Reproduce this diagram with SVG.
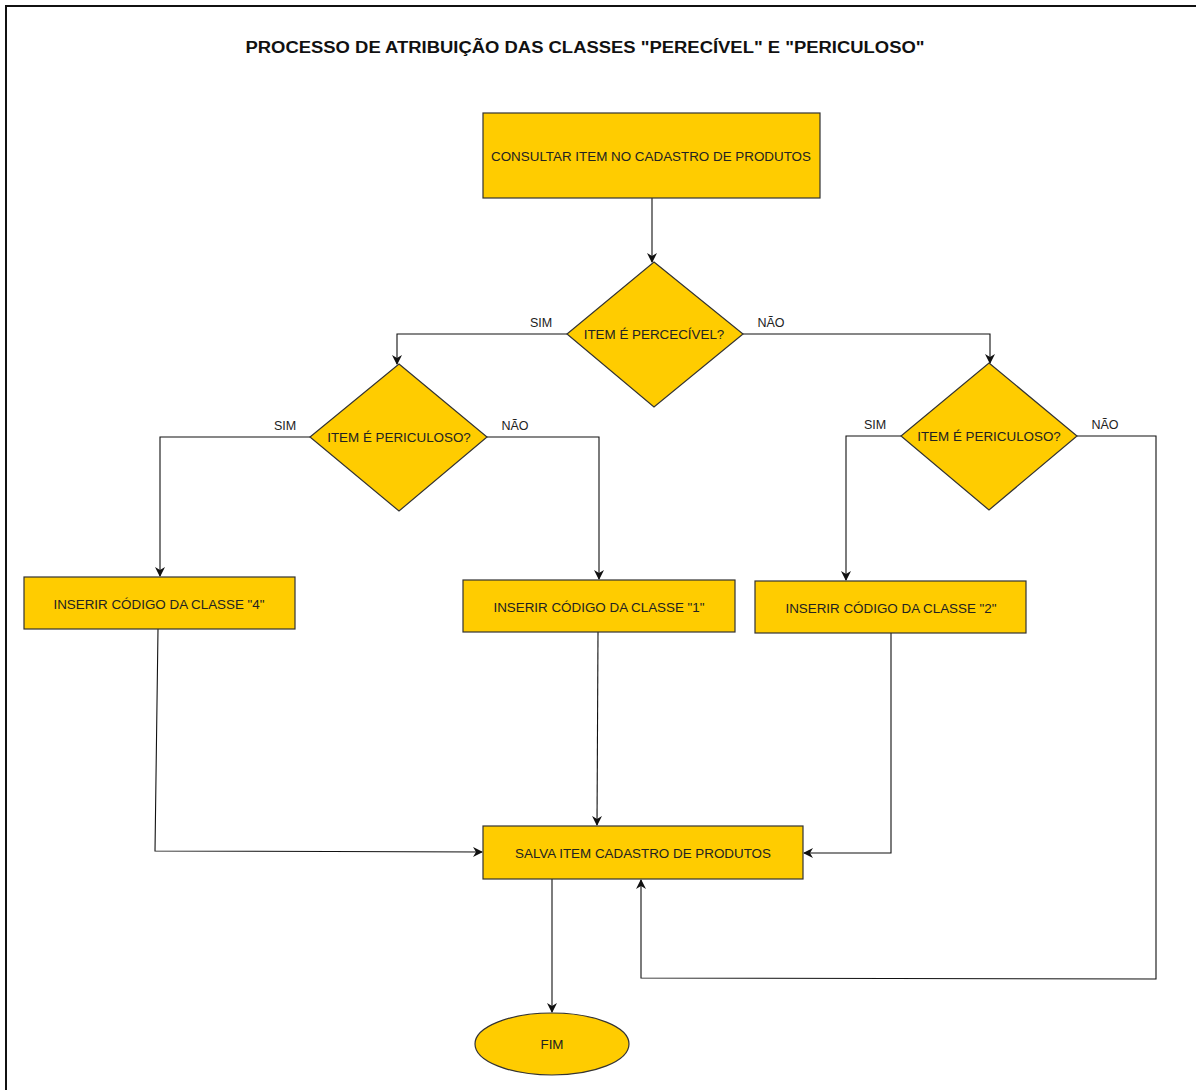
<svg xmlns="http://www.w3.org/2000/svg" width="1196" height="1090" viewBox="0 0 1196 1090">
<style>
.n{fill:#FFCC00;stroke:#333;stroke-width:1.2}
.t{font-family:"Liberation Sans",Arial,sans-serif;font-size:13.4px;fill:#222;text-anchor:middle;dominant-baseline:central}
.l{font-family:"Liberation Sans",Arial,sans-serif;font-size:12.5px;fill:#222;text-anchor:middle}
.e{fill:none;stroke:#111;stroke-width:1.1;marker-end:url(#a)}
</style>
<defs>
<marker id="a" viewBox="0 0 10 10" refX="9" refY="5" markerWidth="10" markerHeight="10" markerUnits="userSpaceOnUse" orient="auto">
<path d="M0,0 L10,5 L0,10 L3,5 Z" fill="#111"/>
</marker>
</defs>
<rect width="1196" height="1090" fill="#fff"/>
<path d="M6,1090 V6 H1196" fill="none" stroke="#111" stroke-width="2"/>
<text x="585" y="53" font-family="Liberation Sans,Arial,sans-serif" font-weight="bold" font-size="16" fill="#111" text-anchor="middle" textLength="679" lengthAdjust="spacingAndGlyphs">PROCESSO DE ATRIBUIÇÃO DAS CLASSES "PERECÍVEL" E "PERICULOSO"</text>
<g id="connectors">
<path class="e" d="M652,198 V262"/>
<path class="e" d="M567,334 H397 V364"/>
<path class="e" d="M743,334 H990 V363"/>
<path class="e" d="M310,437 H160 V576"/>
<path class="e" d="M487,437 H599 V579"/>
<path class="e" d="M901,436 H846 V580"/>
<path class="e" d="M1077,436 H1156 V979 L641,978 V880"/>
<path class="e" d="M158,629 L155,851 L482,852"/>
<path class="e" d="M598,632 L597,825"/>
<path class="e" d="M891,633 V853 H804"/>
<path class="e" d="M552,879 V1012"/>
<text class="l" x="541" y="327">SIM</text>
<text class="l" x="771" y="327">NÃO</text>
<text class="l" x="285" y="430">SIM</text>
<text class="l" x="515" y="430">NÃO</text>
<text class="l" x="875" y="429">SIM</text>
<text class="l" x="1105" y="429">NÃO</text>
</g>
<g id="consultar">
<rect class="n" x="483" y="113" width="337" height="85"/>
<text class="t" x="651" y="156">CONSULTAR ITEM NO CADASTRO DE PRODUTOS</text>
</g>
<g id="perecivel">
<polygon class="n" points="654,262 743,334 654,407 567,334"/>
<text class="t" x="654" y="334">ITEM É PERCECÍVEL?</text>
</g>
<g id="periculoso1">
<polygon class="n" points="399,364 487,437 399,511 310,437"/>
<text class="t" x="399" y="437">ITEM É PERICULOSO?</text>
</g>
<g id="periculoso2">
<polygon class="n" points="989,363 1077,436 989,510 901,436"/>
<text class="t" x="989" y="436">ITEM É PERICULOSO?</text>
</g>
<g id="classe4">
<rect class="n" x="24" y="577" width="271" height="52"/>
<text class="t" x="159" y="604">INSERIR CÓDIGO DA CLASSE "4"</text>
</g>
<g id="classe1">
<rect class="n" x="463" y="580" width="272" height="52"/>
<text class="t" x="599" y="607">INSERIR CÓDIGO DA CLASSE "1"</text>
</g>
<g id="classe2">
<rect class="n" x="755" y="581" width="271" height="52"/>
<text class="t" x="891" y="608">INSERIR CÓDIGO DA CLASSE "2"</text>
</g>
<g id="salva">
<rect class="n" x="483" y="826" width="320" height="53"/>
<text class="t" x="643" y="853">SALVA ITEM CADASTRO DE PRODUTOS</text>
</g>
<g id="fim">
<ellipse class="n" cx="552" cy="1044" rx="77" ry="31"/>
<text class="t" x="552" y="1044">FIM</text>
</g>
</svg>
